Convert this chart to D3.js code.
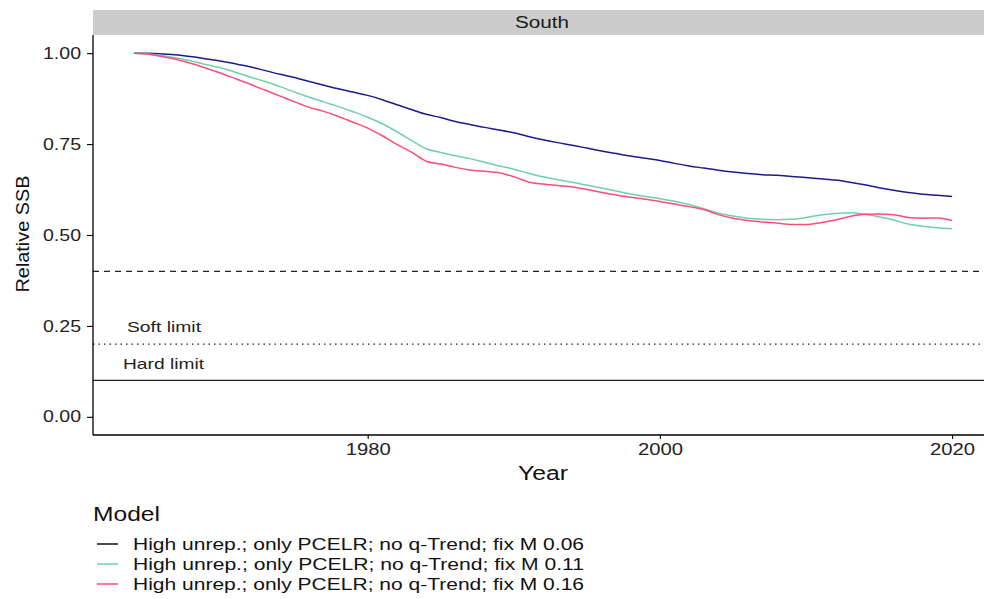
<!DOCTYPE html>
<html><head><meta charset="utf-8">
<script src="https://cdn.jsdelivr.net/npm/d3@7"></script>
<style>body{margin:0;background:#fff}svg{display:block;font-family:"Liberation Sans",Arial,sans-serif}</style>
</head><body><svg id="c" width="984" height="599"></svg>
<script>
const years = d3.range(1964, 2021);
const seriesNames = [
  "High unrep.; only PCELR; no q-Trend; fix M 0.06",
  "High unrep.; only PCELR; no q-Trend; fix M 0.11",
  "High unrep.; only PCELR; no q-Trend; fix M 0.16"
];
const m006 = [1.000,1.000,0.998,0.995,0.990,0.984,0.978,0.970,0.962,0.952,0.942,0.933,0.922,0.912,0.902,0.893,0.884,0.872,0.858,0.845,0.832,0.823,0.812,0.804,0.796,0.789,0.781,0.771,0.762,0.754,0.747,0.739,0.731,0.724,0.717,0.711,0.705,0.697,0.690,0.684,0.678,0.673,0.669,0.666,0.664,0.661,0.658,0.655,0.651,0.645,0.638,0.630,0.623,0.617,0.612,0.609,0.606];
const m011 = [1.000,0.998,0.993,0.986,0.978,0.968,0.959,0.947,0.934,0.922,0.908,0.893,0.879,0.866,0.853,0.839,0.824,0.806,0.784,0.760,0.737,0.727,0.718,0.710,0.700,0.690,0.681,0.670,0.660,0.652,0.645,0.637,0.629,0.621,0.613,0.606,0.600,0.593,0.584,0.572,0.560,0.552,0.546,0.543,0.542,0.543,0.548,0.555,0.559,0.561,0.557,0.550,0.541,0.530,0.524,0.520,0.517];
const m016 = [1.000,0.997,0.990,0.982,0.971,0.958,0.944,0.929,0.914,0.898,0.882,0.866,0.851,0.840,0.826,0.810,0.794,0.773,0.749,0.728,0.703,0.695,0.686,0.679,0.675,0.671,0.660,0.646,0.640,0.636,0.632,0.625,0.617,0.610,0.604,0.598,0.592,0.585,0.578,0.570,0.556,0.546,0.540,0.536,0.533,0.529,0.529,0.534,0.541,0.551,0.557,0.558,0.556,0.548,0.546,0.547,0.540];
const xTicks = [1980, 2000, 2020];
const yTicks = [0, 0.25, 0.5, 0.75, 1.0];
const refLines = [0.4, 0.2, 0.1];
const refLabels = ["Soft limit", "Hard limit"];
const panelTitle = "South";

const colors = ["#1c1c8a", "#6fd0a8", "#ff4d78"];
const keyColors = ["#111111", "#6fd0a8", "#ff4d78"];
const svg = d3.select("#c");
const L = 93, R = 993, T = 35, B = 435;
const x = d3.scaleLinear().domain([1961.2, 2022.8]).range([L, R]);
const y = d3.scaleLinear().domain([-0.05, 1.05]).range([B, T]);
const fit = (sel, len) => sel.attr("textLength", len).attr("lengthAdjust", "spacingAndGlyphs");

// strip
svg.append("rect").attr("x", L).attr("y", 10).attr("width", R - L).attr("height", 25).attr("fill", "#cccccc");
fit(svg.append("text").attr("x", 542).attr("y", 28).attr("text-anchor", "middle").attr("font-size", 16).attr("fill", "#1a1a1a").text(panelTitle), 54);

// reference lines
const dashes = ["6,5", "1.5,4", null];
refLines.forEach((v, i) => {
  const l = svg.append("line").attr("x1", L).attr("x2", R).attr("y1", y(v)).attr("y2", y(v))
    .attr("stroke", "#222").attr("stroke-width", i === 1 ? 1.1 : 1.3);
  if (dashes[i]) l.attr("stroke-dasharray", dashes[i]);
});
fit(svg.append("text").attr("x", 127).attr("y", y(0.2) - 12).attr("font-size", 15).attr("fill", "#222").text(refLabels[0]), 74);
fit(svg.append("text").attr("x", 123).attr("y", y(0.1) - 11).attr("font-size", 15).attr("fill", "#222").text(refLabels[1]), 81);

// lines
const line = d3.line().x((d, i) => x(years[i])).y(d => y(d)).curve(d3.curveMonotoneX);
[m006, m011, m016].forEach((s, i) => {
  svg.append("path").attr("d", line(s)).attr("fill", "none").attr("stroke", colors[i]).attr("stroke-width", 1.5);
});

// axes
const ax = svg.append("g").attr("transform", `translate(0,${B})`)
  .call(d3.axisBottom(x).tickValues(xTicks).tickFormat(d3.format("d")).tickSize(4).tickPadding(5));
const ay = svg.append("g").attr("transform", `translate(${L},0)`)
  .call(d3.axisLeft(y).tickValues(yTicks).tickFormat(d3.format(".2f")).tickSize(6).tickPadding(6));
[ax, ay].forEach(g => {
  g.select(".domain").attr("stroke", "#000").attr("stroke-width", 1.3);
  g.selectAll(".tick line").attr("stroke", "#000").attr("stroke-width", 1.1);
  g.selectAll(".tick text").attr("font-size", 16).attr("fill", "#222").attr("font-family", '"Liberation Sans",Arial,sans-serif');
});
fit(ax.selectAll(".tick text"), 45);
fit(ay.selectAll(".tick text"), 38);
ax.select(".domain").attr("d", `M${L},0H${R}`);
ay.select(".domain").attr("d", `M0,${B}V${T}`);

// axis titles
fit(svg.append("text").attr("x", 543).attr("y", 480).attr("text-anchor", "middle").attr("font-size", 20).attr("fill", "#111").text("Year"), 50);
fit(svg.append("text").attr("transform", `translate(29,${(T + B) / 2 - 1}) rotate(-90)`).attr("text-anchor", "middle").attr("font-size", 18).attr("fill", "#111").text("Relative SSB"), 117);

// legend
fit(svg.append("text").attr("x", 93).attr("y", 521).attr("font-size", 20).attr("fill", "#111").text("Model"), 67);
seriesNames.forEach((n, i) => {
  const yy = 544 + i * 20;
  svg.append("line").attr("x1", 97).attr("x2", 118).attr("y1", yy).attr("y2", yy).attr("stroke", keyColors[i]).attr("stroke-width", 1.5);
  fit(svg.append("text").attr("x", 133).attr("y", yy + 6).attr("font-size", 16).attr("fill", "#111").text(n), 451);
});
</script></body></html>
